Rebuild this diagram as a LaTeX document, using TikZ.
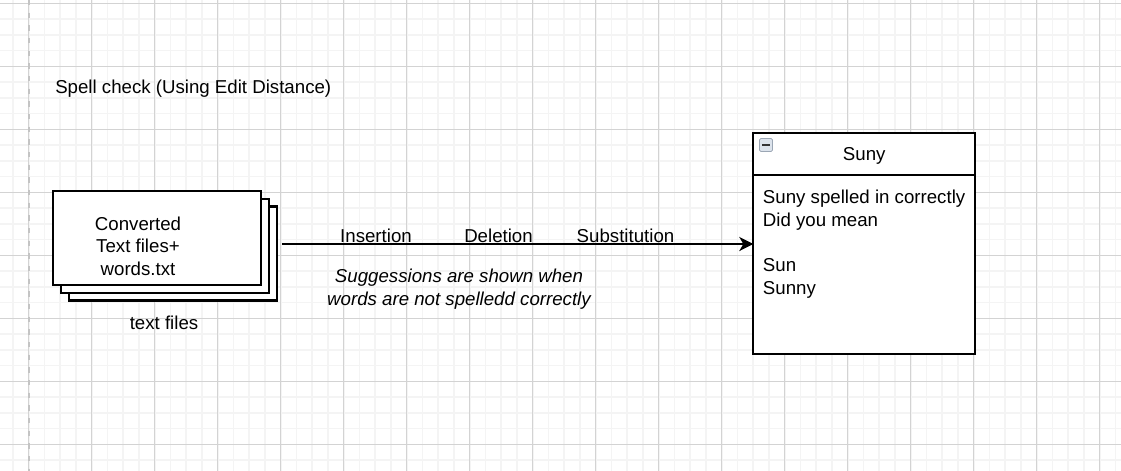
\documentclass[tikz,border=0pt]{standalone}
\usepackage{fontspec}
\setmainfont{Liberation Sans}
\usetikzlibrary{arrows.meta}
\definecolor{gridmajor}{HTML}{D3D3D3}
\definecolor{gridminor}{HTML}{F4F4F4}
\definecolor{pageedge}{HTML}{C4C4C4}
\definecolor{togglefill}{HTML}{DCE3EC}
\definecolor{toggleedge}{HTML}{9BA6B4}
\tikzset{ txt/.style={ inner sep=0pt, font=\fontsize{14}{17}\selectfont } }
\tikzset{ docsheet/.style={ draw, line width=1.8pt, fill=white, minimum width=156pt, minimum height=70.5pt, inner sep=0pt } }
\tikzset{ cardpart/.style={ draw, line width=1.6pt, fill=white, minimum width=166.3pt, inner sep=0pt, outer sep=0pt, txt } }
\tikzset{ flow/.style={ line width=2pt, -{Stealth[length=10.5pt, width=10.5pt, inset=3pt]} } }

\begin{document}
\begin{tikzpicture}[x=0.75pt, y=-0.75pt]
	\useasboundingbox (0,0) rectangle (1121,471);
	% grid
	\foreach \i in {0,...,70} \draw[gridminor, line width=1.2pt] (12.95+15.75*\i, 0) -- (12.95+15.75*\i, 471);
	\foreach \j in {0,...,29} \draw[gridminor, line width=1.2pt] (0, 3.3+15.75*\j) -- (1121, 3.3+15.75*\j);
	\foreach \i in {0,...,17} \draw[gridmajor, line width=0.8pt] (28.7+63*\i, 0) -- (28.7+63*\i, 471);
	\foreach \j in {0,...,7} \draw[gridmajor, line width=0.8pt] (0, 3.3+63*\j) -- (1121, 3.3+63*\j);
	\draw[pageedge, line width=1.6pt, dash pattern=on 4pt off 5.5pt] (28.7,0) -- (28.7,471);

	\node[txt, anchor=west] (title) at (55,89) {Spell check (Using Edit Distance)};

	\node[docsheet] (doc3) at (172.8,253.4) {};
	\node[docsheet] (doc2) at (164.8,245.8) {};
	\node[docsheet] (doc1) at (156.8,238) {};
	\node[txt, align=center] (doctext) at (138,246) {Converted\\Text files+\\words.txt};
	\node[txt] (doclabel) at (164,323) {text files};

	\node[cardpart, minimum height=31.3pt, text depth=0pt] (cardhead) at (864.2,154.2) {Suny};
	\node[cardpart, minimum height=134.5pt, anchor=north] (cardbody) at (cardhead.south) {};
	\node[draw=toggleedge, fill=togglefill, line width=0.6pt, rounded corners=1pt, minimum size=9.75pt, inner sep=0pt] (toggle) at (766,145) {};
	\draw[line width=1.4pt, black!80] ([xshift=2.2pt]toggle.west) -- ([xshift=-2.2pt]toggle.east);
	\node[txt, anchor=west, align=left] (cardtext) at (762.7,244) {Suny spelled in correctly\\Did you mean\\[17pt]Sun\\Sunny};

	\coordinate (src) at (282,244);
	\draw[flow] (src) -- (src -| cardbody.west);
	\node[txt] (ins) at (376,236) {Insertion};
	\node[txt] (del) at (498.5,236) {Deletion};
	\node[txt] (sub) at (625.5,236) {Substitution};
	\node[txt, align=center, font=\fontsize{14}{17}\selectfont\itshape] (hint) at (459,289) {Suggessions are shown when\\words are not spelledd correctly};
\end{tikzpicture}
\end{document}
